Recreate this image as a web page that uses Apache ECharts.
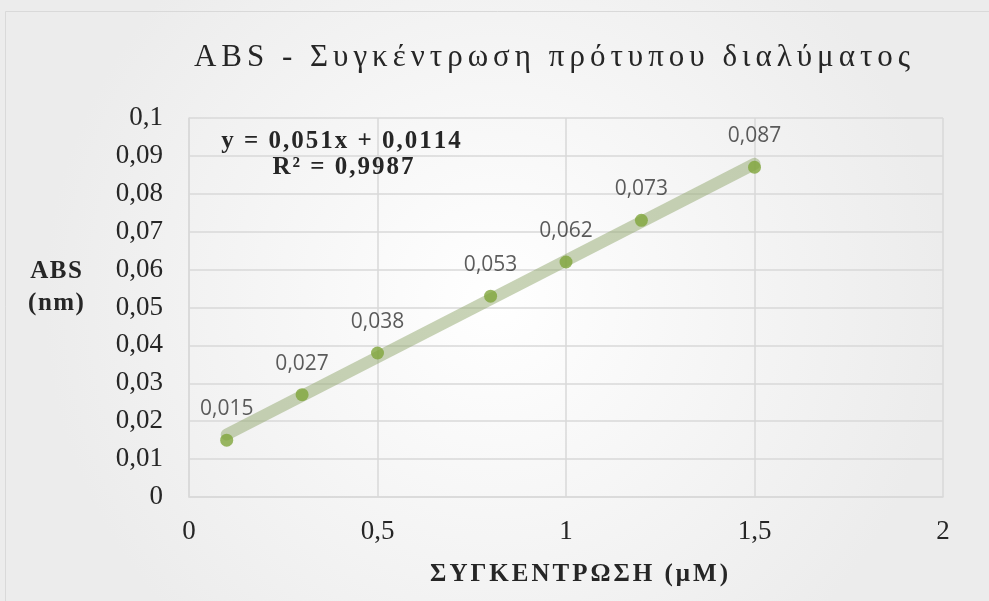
<!DOCTYPE html>
<html>
<head>
<meta charset="utf-8">
<script src="https://cdn.jsdelivr.net/npm/echarts@6/dist/echarts.min.js"></script>
<style>
  html, body { margin: 0; padding: 0; background: #ffffff; }
  #chart { width: 989px; height: 601px; }
</style>
</head>
<body>
<div id="chart"></div>
<script>
// Calibration measurements: concentration (μM) vs absorbance
const concentrations = [0.1, 0.3, 0.5, 0.8, 1.0, 1.2, 1.5];
const absorbances = [0.015, 0.027, 0.038, 0.053, 0.062, 0.073, 0.087];
// Linear fit coefficients as reported
const fitSlope = 0.051;
const fitIntercept = 0.0114;
const fitRange = [0.1, 1.5];
const titleText = 'ABS - Συγκέντρωση πρότυπου διαλύματος';
const equationLines = ['y = 0,051x + 0,0114', 'R² = 0,9987'];
const xAxisTitle = 'ΣΥΓΚΕΝΤΡΩΣΗ (μΜ)';
const yAxisTitle = ['ABS', '(nm)'];

const comma = v => String(v).replace('.', ',');

const points = concentrations.map((x, i) => [x, absorbances[i]]);
const trend = fitRange.map(x => [x, fitSlope * x + fitIntercept]);

const serifFamily = '"Liberation Serif", "Times New Roman", serif';
const ink = '#262626';
const titleFont = '31px ' + serifFamily;
const headFont = 'bold 25px ' + serifFamily;

// Serif headings are drawn with widened tracking (extra px between glyphs)
const tracking = new Map([
  [titleText, 5],
  [equationLines[0], 2],
  [equationLines[1], 2],
  [xAxisTitle, 3],
  [yAxisTitle[0], 1.5],
  [yAxisTitle[1], 1.5]
]);
const baseFillText = CanvasRenderingContext2D.prototype.fillText;
CanvasRenderingContext2D.prototype.fillText = function (text, x, y, maxWidth) {
  const sp = tracking.get(text);
  if (sp === undefined) {
    return baseFillText.apply(this, arguments);
  }
  const glyphs = Array.from(text);
  const widths = glyphs.map(g => this.measureText(g).width);
  const total = widths.reduce((a, b) => a + b, 0) + sp * (glyphs.length - 1);
  const align = this.textAlign;
  let cx = x;
  if (align === 'center') cx = x - total / 2;
  else if (align === 'right' || align === 'end') cx = x - total;
  this.textAlign = 'left';
  glyphs.forEach((g, i) => {
    baseFillText.call(this, g, cx, y);
    cx += widths[i] + sp;
  });
  this.textAlign = align;
};

const chart = echarts.init(document.getElementById('chart'));
chart.setOption({
  animation: false,
  backgroundColor: {
    type: 'radial', x: 0.5, y: 0.5, r: 0.75,
    colorStops: [
      { offset: 0, color: '#ffffff' },
      { offset: 1, color: '#ececec' }
    ]
  },
  graphic: [
    {
      type: 'rect', z: -1, silent: true,
      shape: { x: 5.5, y: 11.5, width: 1000, height: 600 },
      style: { fill: 'none', stroke: '#d9d9d9', lineWidth: 1 }
    },
    {
      type: 'text', x: 552, y: 58, silent: true,
      style: { text: titleText, font: titleFont, fill: ink, align: 'center', verticalAlign: 'middle' }
    },
    {
      type: 'text', x: 341, y: 142, z: 10, silent: true,
      style: { text: equationLines[0], font: headFont, fill: ink, align: 'center', verticalAlign: 'middle' }
    },
    {
      type: 'text', x: 343, y: 168, z: 10, silent: true,
      style: { text: equationLines[1], font: headFont, fill: ink, align: 'center', verticalAlign: 'middle' }
    },
    {
      type: 'text', x: 56, y: 272, silent: true,
      style: { text: yAxisTitle[0], font: headFont, fill: ink, align: 'center', verticalAlign: 'middle' }
    },
    {
      type: 'text', x: 56, y: 304, silent: true,
      style: { text: yAxisTitle[1], font: headFont, fill: ink, align: 'center', verticalAlign: 'middle' }
    },
    {
      type: 'text', x: 579, y: 575, silent: true,
      style: { text: xAxisTitle, font: headFont, fill: ink, align: 'center', verticalAlign: 'middle' }
    }
  ],
  grid: { left: 189, right: 46, top: 118, bottom: 104 },
  xAxis: {
    type: 'value', min: 0, max: 2, interval: 0.5,
    axisLine: { show: true, lineStyle: { color: '#d9d9d9', width: 1.5 } },
    axisTick: { show: false },
    axisLabel: {
      formatter: comma, margin: 21,
      fontFamily: 'Liberation Serif', fontSize: 27, color: ink
    },
    splitLine: { show: true, lineStyle: { color: '#d9d9d9', width: 1.5 } }
  },
  yAxis: {
    type: 'value', min: 0, max: 0.1, interval: 0.01,
    axisLine: { show: true, lineStyle: { color: '#d9d9d9', width: 1.5 } },
    axisTick: { show: false },
    axisLabel: {
      formatter: v => comma(+v.toFixed(2)), margin: 26,
      fontFamily: 'Liberation Serif', fontSize: 27, color: ink
    },
    splitLine: { show: true, lineStyle: { color: '#d9d9d9', width: 1.5 } }
  },
  series: [
    {
      type: 'line', data: trend, symbol: 'none', silent: true,
      lineStyle: { color: 'rgba(145,168,110,0.5)', width: 12, cap: 'round' },
      z: 1
    },
    {
      type: 'scatter', data: points, symbolSize: 13,
      itemStyle: { color: '#7fa53b' },
      z: 3,
      label: {
        show: true, position: 'top', distance: 14,
        formatter: p => comma(p.value[1]),
        fontFamily: 'Open Sans', fontSize: 21, color: '#333333'
      }
    }
  ]
});
</script>
</body>
</html>
